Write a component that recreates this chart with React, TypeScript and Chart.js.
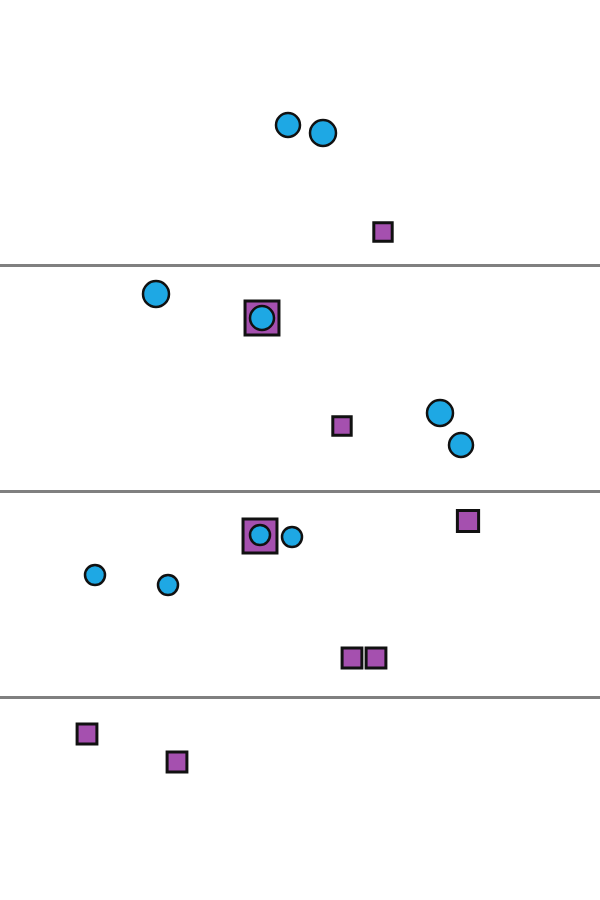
import React, { useEffect, useRef } from "react";
import { Chart, registerables } from "chart.js";

Chart.register(...registerables);

// Blue circle series (x, y in plot units; r = bubble radius)
const circleX = [288, 323, 156, 262, 440, 461, 260, 292, 95, 168];
const circleY = [125, 133, 294, 318, 413, 445, 535, 537, 575, 585];
const circleR = [12, 13, 13, 12, 13, 12, 10, 10, 10, 10];

// Purple square series
const squareX = [383, 262, 342, 468, 260, 352, 376, 87, 177];
const squareY = [232, 318, 426, 521, 536, 658, 658, 734, 762];
const squareR = [13, 24, 13, 15, 24, 14, 14, 14, 14];

// Horizontal reference lines
const gridValues = [265, 491, 697];

export default function App() {
  const ref = useRef<HTMLCanvasElement | null>(null);
  useEffect(() => {
    document.body.style.margin = "0";
    const canvas = ref.current;
    if (!canvas) return;
    const chart = new Chart(canvas, {
      type: "bubble",
      data: {
        datasets: [
          {
            label: "circles",
            data: circleX.map((x, i) => ({ x, y: circleY[i], r: circleR[i] })),
            pointStyle: "circle",
            backgroundColor: "rgb(30,168,228)",
            borderColor: "#111",
            borderWidth: 2.5,
          },
          {
            label: "squares",
            data: squareX.map((x, i) => ({ x, y: squareY[i], r: squareR[i] })),
            pointStyle: "rect",
            backgroundColor: "rgb(165,80,175)",
            borderColor: "#111",
            borderWidth: 3,
          },
        ],
      },
      options: {
        animation: false,
        responsive: false,
        events: [],
        layout: { padding: 0, autoPadding: false },
        plugins: { legend: { display: false }, tooltip: { enabled: false } },
        scales: {
          x: { type: "linear", min: 0, max: 600, display: false },
          y: {
            type: "linear",
            min: 0,
            max: 900,
            reverse: true,
            display: true,
            border: { display: false },
            ticks: { display: false },
            grid: { color: "#808080", lineWidth: 3, drawTicks: false, tickLength: 0 },
            afterBuildTicks: (axis: any) => {
              axis.ticks = gridValues.map((v) => ({ value: v }));
            },
            afterFit: (axis: any) => {
              axis.width = 0;
            },
          },
        },
      },
    });
    return () => chart.destroy();
  }, []);
  return (
    <div style={{ width: 600, height: 900 }}>
      <canvas ref={ref} width={600} height={900} style={{ display: "block", width: 600, height: 900 }} />
    </div>
  );
}
